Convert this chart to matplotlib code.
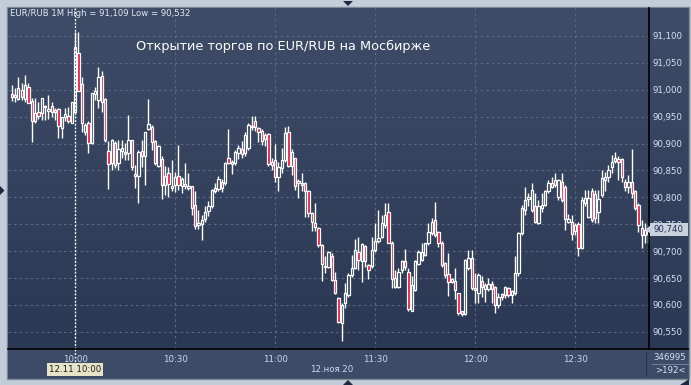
import numpy as np
import matplotlib
matplotlib.use("Agg")
import matplotlib.pyplot as plt
from matplotlib.patches import Rectangle, Polygon
from matplotlib.lines import Line2D
from matplotlib.transforms import blended_transform_factory

# ---------------- data (EUR/RUB, 1-minute candles, 12.11.2020) ----------------
first_minute = -19          # first candle = 09:41 (minutes relative to 10:00)
open_ = [
    90.992, 90.987, 90.983, 91.000, 90.983, 91.006, 90.979, 90.941, 90.959, 90.957,
    90.968, 90.961, 90.970, 90.959, 90.964, 90.928, 90.950, 90.951, 90.938, 90.959,
    91.068, 91.011, 90.922, 90.939, 90.901, 90.992, 90.981, 91.026, 90.982, 90.887,
    90.863, 90.901, 90.863, 90.887, 90.880, 90.883, 90.907, 90.839, 90.840, 90.886,
    90.876, 90.927, 90.931, 90.905, 90.858, 90.871, 90.823, 90.845, 90.818, 90.823,
    90.840, 90.821, 90.821, 90.818, 90.821, 90.786, 90.749, 90.751, 90.759, 90.774,
    90.783, 90.811, 90.815, 90.829, 90.826, 90.873, 90.862, 90.863, 90.882, 90.889,
    90.882, 90.891, 90.930, 90.941, 90.928, 90.924, 90.908, 90.918, 90.860, 90.870,
    90.838, 90.854, 90.870, 90.922, 90.858, 90.873, 90.826, 90.827, 90.826, 90.811,
    90.770, 90.752, 90.743, 90.712, 90.670, 90.671, 90.691, 90.646, 90.612, 90.567,
    90.603, 90.619, 90.656, 90.668, 90.699, 90.681, 90.710, 90.674, 90.673, 90.702,
    90.718, 90.727, 90.749, 90.772, 90.716, 90.633, 90.634, 90.664, 90.681, 90.662,
    90.589, 90.628, 90.676, 90.684, 90.693, 90.715, 90.733, 90.757, 90.736, 90.716,
    90.677, 90.658, 90.643, 90.645, 90.622, 90.588, 90.583, 90.668, 90.687, 90.631,
    90.622, 90.645, 90.629, 90.629, 90.639, 90.633, 90.600, 90.620, 90.619, 90.631,
    90.619, 90.622, 90.659, 90.733, 90.777, 90.796, 90.777, 90.783, 90.752, 90.780,
    90.786, 90.811, 90.820, 90.832, 90.801, 90.829, 90.820, 90.755, 90.755, 90.738,
    90.751, 90.705, 90.789, 90.764, 90.811, 90.761, 90.773, 90.804, 90.832, 90.837,
    90.857, 90.868, 90.871, 90.871, 90.829, 90.820, 90.829, 90.811, 90.786, 90.743,
    90.730, 90.732]
high = [
    91.009, 91.003, 91.024, 91.013, 91.027, 91.013, 90.985, 90.985, 90.978, 90.985,
    90.972, 90.990, 90.978, 90.966, 90.966, 90.949, 90.966, 90.968, 90.978, 91.108,
    91.108, 91.024, 90.938, 90.941, 90.994, 91.006, 91.043, 91.034, 90.985, 90.904,
    90.909, 90.904, 90.907, 90.907, 90.901, 90.953, 90.907, 90.860, 90.888, 90.907,
    90.922, 90.982, 90.935, 90.907, 90.897, 90.876, 90.858, 90.857, 90.870, 90.848,
    90.897, 90.838, 90.863, 90.846, 90.821, 90.811, 90.777, 90.767, 90.783, 90.793,
    90.815, 90.826, 90.840, 90.834, 90.866, 90.927, 90.870, 90.888, 90.897, 90.904,
    90.922, 90.938, 90.951, 90.951, 90.931, 90.927, 90.919, 90.920, 90.873, 90.900,
    90.866, 90.891, 90.931, 90.933, 90.889, 90.873, 90.835, 90.846, 90.829, 90.814,
    90.773, 90.789, 90.744, 90.713, 90.690, 90.701, 90.696, 90.662, 90.614, 90.603,
    90.640, 90.660, 90.693, 90.722, 90.727, 90.716, 90.712, 90.676, 90.727, 90.752,
    90.777, 90.767, 90.789, 90.789, 90.718, 90.665, 90.668, 90.684, 90.704, 90.668,
    90.654, 90.684, 90.702, 90.715, 90.716, 90.752, 90.761, 90.792, 90.738, 90.718,
    90.679, 90.696, 90.650, 90.668, 90.623, 90.589, 90.685, 90.702, 90.702, 90.659,
    90.659, 90.654, 90.641, 90.650, 90.645, 90.635, 90.622, 90.622, 90.635, 90.634,
    90.628, 90.690, 90.736, 90.786, 90.820, 90.808, 90.826, 90.808, 90.795, 90.808,
    90.814, 90.832, 90.837, 90.846, 90.835, 90.845, 90.823, 90.769, 90.767, 90.752,
    90.755, 90.801, 90.814, 90.814, 90.817, 90.814, 90.814, 90.851, 90.848, 90.860,
    90.879, 90.885, 90.876, 90.874, 90.835, 90.842, 90.889, 90.814, 90.789, 90.758,
    90.752, 90.749]
low = [
    90.979, 90.977, 90.981, 90.981, 90.978, 90.975, 90.902, 90.938, 90.946, 90.944,
    90.944, 90.946, 90.950, 90.944, 90.910, 90.910, 90.941, 90.938, 90.938, 90.957,
    90.997, 90.922, 90.916, 90.883, 90.899, 90.981, 90.966, 90.959, 90.903, 90.815,
    90.851, 90.854, 90.851, 90.873, 90.870, 90.870, 90.851, 90.817, 90.789, 90.857,
    90.823, 90.925, 90.888, 90.860, 90.857, 90.796, 90.804, 90.801, 90.811, 90.809,
    90.814, 90.808, 90.815, 90.814, 90.767, 90.741, 90.741, 90.721, 90.755, 90.765,
    90.781, 90.808, 90.811, 90.809, 90.823, 90.862, 90.843, 90.860, 90.871, 90.873,
    90.876, 90.888, 90.925, 90.924, 90.902, 90.897, 90.896, 90.858, 90.851, 90.829,
    90.812, 90.845, 90.866, 90.856, 90.842, 90.814, 90.798, 90.811, 90.764, 90.764,
    90.738, 90.738, 90.707, 90.645, 90.659, 90.668, 90.645, 90.621, 90.567, 90.532,
    90.594, 90.615, 90.651, 90.666, 90.665, 90.643, 90.671, 90.648, 90.668, 90.699,
    90.715, 90.724, 90.743, 90.715, 90.631, 90.631, 90.631, 90.659, 90.665, 90.588,
    90.588, 90.625, 90.674, 90.681, 90.691, 90.712, 90.730, 90.727, 90.708, 90.671,
    90.650, 90.617, 90.641, 90.611, 90.581, 90.580, 90.581, 90.665, 90.628, 90.603,
    90.603, 90.614, 90.606, 90.625, 90.603, 90.585, 90.594, 90.609, 90.613, 90.615,
    90.603, 90.619, 90.653, 90.730, 90.767, 90.783, 90.773, 90.752, 90.751, 90.773,
    90.783, 90.808, 90.817, 90.820, 90.795, 90.792, 90.739, 90.752, 90.721, 90.730,
    90.690, 90.704, 90.783, 90.761, 90.755, 90.752, 90.753, 90.801, 90.811, 90.829,
    90.845, 90.863, 90.832, 90.829, 90.811, 90.808, 90.798, 90.777, 90.736, 90.705,
    90.715, 90.715]
close = [
    90.986, 90.990, 91.003, 90.987, 91.009, 90.976, 90.941, 90.957, 90.952, 90.985,
    90.970, 90.965, 90.959, 90.962, 90.933, 90.949, 90.955, 90.941, 90.978, 91.080,
    90.997, 90.938, 90.935, 90.901, 90.994, 90.998, 91.024, 90.978, 90.907, 90.862,
    90.907, 90.860, 90.889, 90.891, 90.884, 90.907, 90.856, 90.843, 90.885, 90.876,
    90.922, 90.936, 90.902, 90.863, 90.896, 90.823, 90.840, 90.825, 90.821, 90.838,
    90.823, 90.834, 90.825, 90.821, 90.781, 90.747, 90.752, 90.758, 90.773, 90.783,
    90.814, 90.817, 90.834, 90.817, 90.863, 90.863, 90.866, 90.885, 90.891, 90.881,
    90.916, 90.935, 90.933, 90.931, 90.922, 90.904, 90.916, 90.862, 90.866, 90.838,
    90.857, 90.870, 90.919, 90.858, 90.885, 90.821, 90.831, 90.823, 90.811, 90.770,
    90.755, 90.744, 90.712, 90.676, 90.673, 90.699, 90.646, 90.623, 90.569, 90.600,
    90.622, 90.656, 90.668, 90.702, 90.684, 90.713, 90.681, 90.665, 90.702, 90.718,
    90.724, 90.752, 90.767, 90.716, 90.648, 90.650, 90.662, 90.682, 90.671, 90.592,
    90.637, 90.681, 90.699, 90.699, 90.715, 90.736, 90.755, 90.730, 90.715, 90.674,
    90.656, 90.642, 90.648, 90.628, 90.585, 90.583, 90.684, 90.687, 90.631, 90.627,
    90.656, 90.633, 90.637, 90.639, 90.629, 90.600, 90.615, 90.614, 90.633, 90.619,
    90.625, 90.659, 90.733, 90.780, 90.795, 90.801, 90.814, 90.755, 90.783, 90.786,
    90.811, 90.826, 90.826, 90.823, 90.832, 90.795, 90.759, 90.759, 90.732, 90.749,
    90.705, 90.795, 90.798, 90.798, 90.758, 90.806, 90.796, 90.836, 90.838, 90.851,
    90.866, 90.874, 90.865, 90.837, 90.820, 90.829, 90.808, 90.780, 90.749, 90.730,
    90.739, 90.740]

y_ticks = [90.55, 90.60, 90.65, 90.70, 90.75, 90.80, 90.85, 90.90, 90.95, 91.00, 91.05, 91.10]
x_ticks = [0, 30, 60, 90, 120, 150]
x_tick_labels = ["10:00", "10:30", "11:00", "11:30", "12:00", "12:30"]
header = "EUR/RUB 1M High = 91,109 Low = 90,532"
title = "Открытие торгов по EUR/RUB на Мосбирже"
last_price = 90.740
cursor_minute = 0
cursor_label = "12.11 10:00"
date_label = "12.ноя.20"
volume_label = "346995"
count_label = ">192<"

# ---------------- figure ----------------
W, H = 691, 385
fig = plt.figure(figsize=(W / 100, H / 100), dpi=100)
fig.patch.set_facecolor("#c3cdd9")

def fx(px):
    return px / W

def fy(py):
    return 1 - py / H

def frect(x0, y0, x1, y1, **kw):
    fig.patches.append(Rectangle((fx(x0), fy(y1)), fx(x1) - fx(x0), fy(y0) - fy(y1),
                                 transform=fig.transFigure, **kw))

def fline(x0, y0, x1, y1, **kw):
    fig.lines.append(Line2D([fx(x0), fx(x1)], [fy(y0), fy(y1)], transform=fig.transFigure, **kw))

def ftri(pts, **kw):
    fig.patches.append(Polygon([(fx(a), fy(b)) for a, b in pts], closed=True,
                               transform=fig.transFigure, **kw))

# outer frame + panels
frect(7, 7, 689, 379, facecolor="#3c4a65", edgecolor="#7d8899", lw=1, zorder=0)
frect(8, 349, 688, 378, facecolor="#3d4b67", edgecolor="none", zorder=0.5)

# gradient background for plot + price scale
bg = fig.add_axes([fx(8), fy(349), fx(688) - fx(8), fy(8) - fy(349)], zorder=0.6)
top_c = np.array([62, 76, 103]) / 255
bot_c = np.array([43, 56, 84]) / 255
g = np.linspace(0, 1, 256)[:, None, None]
grad = top_c * (1 - g) + bot_c * g
bg.imshow(grad, aspect="auto", extent=[0, 1, 0, 1])
bg.set_axis_off()

ax = fig.add_axes([fx(8), fy(349), fx(649) - fx(8), fy(8) - fy(349)], zorder=1)
ax.set_facecolor("none")
for s in ax.spines.values():
    s.set_visible(False)

t = np.arange(len(close)) + first_minute
o = np.array(open_)
c = np.array(close)
hi = np.maximum(np.array(high), np.maximum(o, c))
lo = np.minimum(np.array(low), np.minimum(o, c))

ax.set_xlim(-20.1, 172.2)
ax.set_ylim(90.518, 91.152)

# grid
ax.set_yticks(y_ticks)
ax.set_yticklabels([f"{v:.3f}".replace(".", ",") for v in y_ticks])
ax.set_xticks(x_ticks)
ax.set_xticklabels(x_tick_labels)
ax.grid(True, color="#5a6985", lw=0.8, ls=(0, (2.2, 2.8)), zorder=0)
ax.yaxis.tick_right()
ax.tick_params(axis="y", length=0, pad=2.5, labelsize=6.2, labelcolor="#d6e4f4")
ax.tick_params(axis="x", length=0, pad=4.2, labelsize=6.2, labelcolor="#c9dcf2")

# candles
ax.vlines(t, lo, hi, color="white", lw=1.0, zorder=3)
bull = c >= o
body_bottom = np.minimum(o, c)
body_h = np.maximum(np.abs(c - o), 0.0014)
faces = np.where(bull, "#34425e", "#ea1840")
ax.bar(t, body_h, bottom=body_bottom, width=0.7, color=faces, edgecolor="white",
       linewidth=0.9, zorder=4)

# cursor line
ax.axvline(cursor_minute, color="white", lw=1.0, ls=(0, (1.3, 1.3)), zorder=5)
cx = 8 + (cursor_minute + 20.1) / (172.2 + 20.1) * (649 - 8)
fline(cx, 349, cx, 363, color="white", lw=1.0, ls=(0, (1.3, 1.3)), zorder=6)

# separators
fline(649, 8, 649, 349, color="black", lw=1.2, zorder=7)
fline(8, 349, 688, 349, color="black", lw=1.2, zorder=7)
fline(646, 352, 646, 376, color="#2a3650", lw=0.8, zorder=7)
fline(652, 364, 688, 364, color="#7d8aa0", lw=0.6, zorder=7)

# texts
fig.text(fx(10), fy(13), header, fontsize=6.1, color="#e2eaf4", va="center", ha="left", zorder=8)
fig.text(fx(283), fy(46), title, fontsize=9.3, color="white", va="center", ha="center", zorder=8)
fig.text(fx(cx), fy(369.5), cursor_label, fontsize=6.2, color="#1a1a1a", va="center", ha="center",
         zorder=8, bbox=dict(boxstyle="square,pad=0.2", facecolor="#e7e3c8", edgecolor="none"))
fig.text(fx(332), fy(370), date_label, fontsize=6.2, color="#c9dcf2", va="center", ha="center", zorder=8)
fig.text(fx(670), fy(357), volume_label, fontsize=6.2, color="#d6e4f4", va="center", ha="center", zorder=8)
fig.text(fx(670), fy(370.5), count_label, fontsize=6.2, color="#d6e4f4", va="center", ha="center", zorder=8)

# last price marker
bt = blended_transform_factory(fig.transFigure, ax.transData)
fig.patches.append(Rectangle((fx(650), last_price - 0.0115), fx(688) - fx(650), 0.023,
                             transform=bt, facecolor="#c9d1dd", edgecolor="none", zorder=8))
fig.patches.append(Polygon([(fx(645), last_price), (fx(650.5), last_price + 0.0075),
                            (fx(650.5), last_price - 0.0075)], closed=True, transform=bt,
                           facecolor="#c9d1dd", edgecolor="none", zorder=8))
fig.text(fx(669), last_price, f"{last_price:.3f}".replace(".", ","), transform=bt, fontsize=6.2,
         color="#1d2d52", va="center", ha="center", zorder=9)

# small frame markers
ftri([(343, 1), (353, 1), (348, 6)], facecolor="#1d2942", edgecolor="none", zorder=9)
ftri([(343, 385), (353, 385), (348, 380)], facecolor="#1d2942", edgecolor="none", zorder=9)
ftri([(0, 186), (0, 195), (4.5, 190.5)], facecolor="#1d2942", edgecolor="none", zorder=9)
ftri([(680, 385), (689, 385), (689, 379)], facecolor="#1d2942", edgecolor="none", zorder=9)

fig.savefig("out.png", dpi=100, facecolor=fig.get_facecolor())
